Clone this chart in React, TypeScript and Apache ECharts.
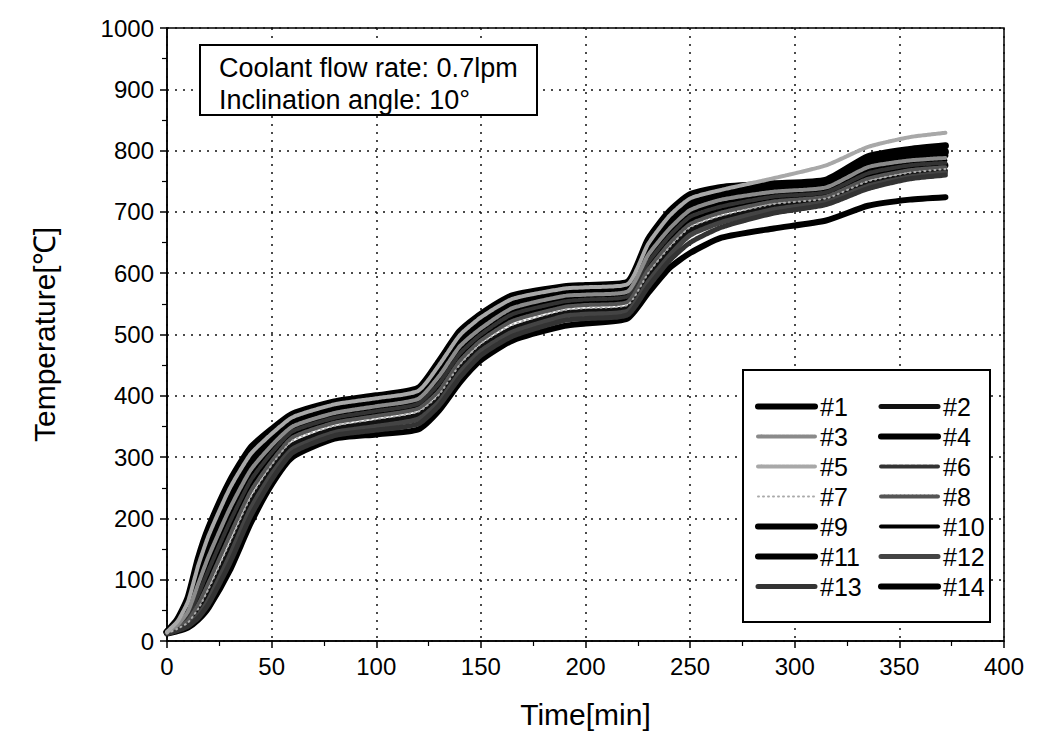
import React, { useEffect, useRef } from "react";
import * as echarts from "echarts";

const times = [0, 5, 10, 15, 20, 30, 40, 50, 60, 80, 100, 120, 130, 140, 150, 165, 190, 200, 220, 230, 240, 250, 265, 290, 315, 335, 355, 372];

const tc1 = [12, 16, 22, 35, 55, 115, 192, 255, 300, 330, 337, 345, 376, 422, 458, 490, 514, 518, 526, 568, 608, 633, 658, 673, 686, 710, 720, 724];
const tc2 = [12, 19, 28, 47, 77, 150, 226, 280, 320, 346, 357, 369, 396, 445, 479, 510, 535, 538, 543, 593, 636, 670, 689, 709, 719, 746, 760, 767];
const tc3 = [14, 26, 48, 94, 139, 216, 279, 319, 350, 372, 383, 395, 432, 481, 510, 543, 563, 565, 570, 630, 672, 703, 720, 733, 740, 773, 784, 788];
const tc4 = [14, 28, 53, 103, 150, 227, 287, 325, 355, 377, 387, 399, 438, 487, 516, 548, 567, 569, 574, 636, 679, 710, 726, 737, 744, 778, 789, 792];
const tc5 = [15, 32, 64, 124, 173, 249, 305, 338, 365, 386, 396, 408, 450, 499, 528, 558, 575, 577, 582, 648, 693, 722, 736, 755, 776, 806, 822, 829];
const tc6 = [13, 23, 40, 76, 117, 194, 262, 307, 342, 364, 375, 387, 420, 469, 500, 533, 554, 557, 562, 618, 660, 692, 709, 725, 732, 763, 776, 780];
const tc7 = [12, 20, 30, 53, 86, 161, 235, 287, 327, 351, 362, 374, 402, 451, 485, 516, 540, 543, 548, 600, 642, 675, 694, 713, 722, 750, 764, 770];
const tc8 = [13, 21, 33, 60, 96, 172, 244, 293, 332, 356, 367, 379, 408, 457, 490, 522, 545, 548, 553, 606, 648, 680, 699, 717, 725, 754, 768, 773];
const tc9 = [15, 35, 70, 135, 185, 260, 315, 345, 370, 390, 400, 412, 456, 505, 533, 563, 578, 580, 585, 655, 700, 728, 740, 746, 752, 790, 802, 808];
const tc10 = [13, 25, 44, 85, 128, 205, 270, 313, 346, 368, 379, 391, 426, 475, 505, 538, 559, 561, 566, 624, 666, 698, 714, 729, 736, 768, 780, 784];
const tc11 = [13, 22, 36, 68, 106, 183, 253, 300, 337, 360, 371, 383, 414, 463, 495, 528, 550, 553, 558, 612, 654, 686, 704, 721, 728, 758, 772, 776];
const tc12 = [12, 18, 26, 42, 68, 139, 216, 272, 313, 340, 350, 362, 390, 438, 473, 504, 530, 533, 538, 586, 628, 662, 683, 704, 716, 742, 757, 764];
const tc13 = [12, 17, 24, 38, 61, 127, 204, 263, 307, 335, 344, 354, 384, 430, 466, 497, 523, 526, 532, 578, 620, 650, 675, 698, 712, 738, 754, 760];
const tc14 = [14, 30, 58, 113, 161, 238, 296, 331, 360, 381, 391, 403, 444, 493, 522, 553, 571, 573, 578, 642, 686, 716, 731, 741, 748, 784, 794, 798];

const seriesNames = ["#1", "#2", "#3", "#4", "#5", "#6", "#7", "#8", "#9", "#10", "#11", "#12", "#13", "#14"];
const seriesValues = [tc1, tc2, tc3, tc4, tc5, tc6, tc7, tc8, tc9, tc10, tc11, tc12, tc13, tc14];

const xTicks = { min: 0, max: 400, interval: 50 };
const yTicks = { min: 0, max: 1000, interval: 100 };

const annotationLines = ["Coolant flow rate: 0.7lpm", "Inclination angle: 10\u00B0"];

const styles: Record<string, { color: string; width: number; type: any; z: number }> = {
  "#1": { color: "#000", width: 6, type: "solid", z: 2 },
  "#2": { color: "#111", width: 5, type: "solid", z: 2 },
  "#3": { color: "#8a8a8a", width: 4, type: [3, 1], z: 4 },
  "#4": { color: "#000", width: 6, type: "solid", z: 2 },
  "#5": { color: "#a8a8a8", width: 4, type: [3, 1], z: 5 },
  "#6": { color: "#333", width: 4, type: [4, 2], z: 3 },
  "#7": { color: "#aaa", width: 2, type: [1, 4], z: 5 },
  "#8": { color: "#555", width: 4, type: [3, 1], z: 3 },
  "#9": { color: "#000", width: 7, type: "solid", z: 2 },
  "#10": { color: "#000", width: 4, type: "solid", z: 2 },
  "#11": { color: "#000", width: 6, type: "solid", z: 2 },
  "#12": { color: "#444", width: 5, type: [4, 1], z: 3 },
  "#13": { color: "#333", width: 5, type: [3, 1], z: 3 },
  "#14": { color: "#000", width: 7, type: "solid", z: 2 },
};

const FONT = "'Liberation Sans', Arial, sans-serif";

export default function App() {
  const ref = useRef<HTMLDivElement>(null);

  useEffect(() => {
    if (!ref.current) return;
    const chart = echarts.init(ref.current, null, { renderer: "svg" });

    const series = seriesNames.map((name, i) => {
      const st = styles[name];
      return {
        name,
        type: "line",
        data: times.map((t, k) => [t, seriesValues[i][k]]),
        symbol: "none",
        showSymbol: false,
        smooth: 0.2,
        z: st.z,
        color: st.color,
        lineStyle: { color: st.color, width: st.width, type: st.type, cap: "round", join: "round" },
        emphasis: { disabled: true },
        silent: true,
      };
    });

    const legendItems = (parity: number) =>
      seriesNames
        .filter((_, i) => i % 2 === parity)
        .map((name) => ({
          name,
          lineStyle: { width: Math.min(styles[name].width, 6), color: styles[name].color, type: styles[name].type },
        }));

    const legendBase = {
      orient: "vertical",
      itemWidth: 57,
      itemHeight: 14,
      itemGap: 5,
      padding: 0,
      selectedMode: false,
      z: 8,
      itemStyle: { opacity: 0 },
      lineStyle: { width: "inherit" },
      textStyle: { fontSize: 25, color: "#000", lineHeight: 24, fontFamily: FONT },
    };

    const axisCommon = {
      nameLocation: "middle",
      nameTextStyle: { fontSize: 30, color: "#000", fontFamily: FONT },
      axisLine: { show: true, onZero: false, lineStyle: { color: "#000", width: 1.5 } },
      axisTick: { show: true, inside: false, length: 7, lineStyle: { color: "#000", width: 1.5 } },
      minorTick: { show: true, splitNumber: 2, length: 5, lineStyle: { color: "#000", width: 1.2 } },
      axisLabel: { fontSize: 24, color: "#000", margin: 13, fontFamily: FONT, formatter: (v: number) => String(v) },
      splitLine: { show: true, lineStyle: { color: "#111", type: [2, 6], width: 1.5 } },
    };

    const option = {
      animation: false,
      textStyle: { fontFamily: FONT },
      grid: {
        left: 167,
        top: 28,
        right: 38,
        bottom: 98,
        show: true,
        borderColor: "#000",
        borderWidth: 1.5,
        backgroundColor: "transparent",
      },
      xAxis: {
        type: "value",
        min: xTicks.min,
        max: xTicks.max,
        interval: xTicks.interval,
        name: "Time[min]",
        nameGap: 58,
        ...axisCommon,
      },
      yAxis: {
        type: "value",
        min: yTicks.min,
        max: yTicks.max,
        interval: yTicks.interval,
        name: "Temperature[\u2103]",
        nameGap: 108,
        ...axisCommon,
      },
      legend: [
        { ...legendBase, left: 755, top: 394, data: legendItems(0) },
        { ...legendBase, left: 878, top: 394, data: legendItems(1) },
      ],
      graphic: [
        {
          type: "rect",
          z: 6,
          shape: { x: 200, y: 45, width: 337, height: 70 },
          style: { fill: "#fff", stroke: "#000", lineWidth: 2 },
        },
        {
          type: "text",
          z: 7,
          x: 219,
          y: 68,
          style: { text: annotationLines[0], fontSize: 27, fill: "#000", fontFamily: FONT, verticalAlign: "middle" },
        },
        {
          type: "text",
          z: 7,
          x: 219,
          y: 100,
          style: { text: annotationLines[1], fontSize: 27, fill: "#000", fontFamily: FONT, verticalAlign: "middle" },
        },
        {
          type: "rect",
          z: 6,
          shape: { x: 743, y: 370, width: 247, height: 252 },
          style: { fill: "#fff", stroke: "#000", lineWidth: 2 },
        },
      ],
      series,
    };

    chart.setOption(option as any);
    return () => chart.dispose();
  }, []);

  return (
    <div
      ref={ref}
      style={{ position: "fixed", left: 0, top: 0, width: 1042, height: 739, background: "#fff" }}
    />
  );
}
